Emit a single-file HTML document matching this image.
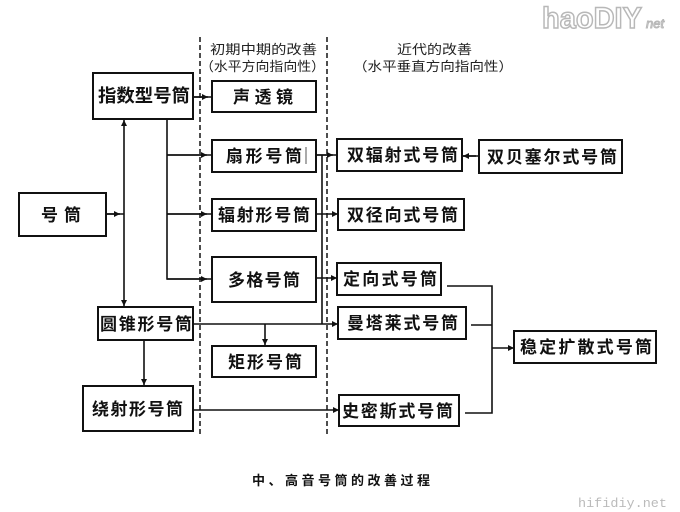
<!DOCTYPE html>
<html><head><meta charset="utf-8">
<style>
html,body{margin:0;padding:0;background:#fff;}
svg{display:block;}
.b{fill:none;stroke:#111;stroke-width:2;}
.l{fill:none;stroke:#111;stroke-width:1.6;}
.d{fill:none;stroke:#222;stroke-width:1.6;stroke-dasharray:5,3;}
.t{font-family:"Liberation Sans","Noto Sans CJK SC",sans-serif;font-size:17px;font-weight:bold;fill:#111;}
.h{font-family:"Liberation Sans","Noto Sans CJK SC",sans-serif;font-size:13px;fill:#222;}
</style></head>
<body>
<svg width="680" height="512" viewBox="0 0 680 512" xmlns="http://www.w3.org/2000/svg">
<defs>
<marker id="a" viewBox="0 0 10 10" refX="10" refY="5" markerWidth="7" markerHeight="6" orient="auto" markerUnits="userSpaceOnUse">
<path d="M0,0 L10,5 L0,10 z" fill="#111"/>
</marker>
</defs>
<rect width="680" height="512" fill="#fff"/>

<!-- dashed separators -->
<line class="d" x1="200" y1="37" x2="200" y2="436"/>
<line class="d" x1="327" y1="37" x2="327" y2="436"/>

<!-- headers -->
<text class="h" x="210" y="54" textLength="107" lengthAdjust="spacingAndGlyphs">初期中期的改善</text>
<text class="h" x="200" y="71" textLength="125" lengthAdjust="spacingAndGlyphs">（水平方向指向性）</text>
<text class="h" x="397" y="54" textLength="75" lengthAdjust="spacingAndGlyphs">近代的改善</text>
<text class="h" x="353" y="71" textLength="160" lengthAdjust="spacingAndGlyphs">（水平垂直方向指向性）</text>

<!-- boxes -->
<rect class="b" x="19" y="193" width="87" height="43"/>
<text class="t" x="41" y="221" textLength="40" lengthAdjust="spacing">号筒</text>

<rect class="b" x="93" y="73" width="100" height="46"/>
<text class="t" x="98" y="102" textLength="92" lengthAdjust="spacingAndGlyphs" style="font-size:18px">指数型号筒</text>

<rect class="b" x="212" y="81" width="104" height="31"/>
<text class="t" x="233" y="103" textLength="60" lengthAdjust="spacing">声透镜</text>

<rect class="b" x="212" y="140" width="104" height="32"/>
<text class="t" x="226" y="162" textLength="76" lengthAdjust="spacing">扇形号筒</text>
<line x1="306" y1="147" x2="306" y2="164" stroke="#555" stroke-width="1"/>

<rect class="b" x="212" y="199" width="104" height="32"/>
<text class="t" x="218" y="221" textLength="92" lengthAdjust="spacing">辐射形号筒</text>

<rect class="b" x="212" y="257" width="104" height="45"/>
<text class="t" x="228" y="286" textLength="72" lengthAdjust="spacing">多格号筒</text>

<rect class="b" x="98" y="307" width="95" height="33"/>
<text class="t" x="100" y="330" textLength="92" lengthAdjust="spacing">圆锥形号筒</text>

<rect class="b" x="212" y="346" width="104" height="31"/>
<text class="t" x="228" y="368" textLength="74" lengthAdjust="spacing">矩形号筒</text>

<rect class="b" x="83" y="386" width="110" height="45"/>
<text class="t" x="92" y="415" textLength="91" lengthAdjust="spacing">绕射形号筒</text>

<rect class="b" x="337" y="139" width="125" height="32"/>
<text class="t" x="347" y="161" textLength="111" lengthAdjust="spacing">双辐射式号筒</text>

<rect class="b" x="479" y="140" width="143" height="33"/>
<text class="t" x="487" y="163" textLength="130" lengthAdjust="spacing">双贝塞尔式号筒</text>

<rect class="b" x="338" y="199" width="126" height="31"/>
<text class="t" x="347" y="221" textLength="111" lengthAdjust="spacing">双径向式号筒</text>

<rect class="b" x="337" y="263" width="104" height="32"/>
<text class="t" x="343" y="285" textLength="94" lengthAdjust="spacing">定向式号筒</text>

<rect class="b" x="338" y="307" width="128" height="32"/>
<text class="t" x="347" y="329" textLength="111" lengthAdjust="spacing">曼塔莱式号筒</text>

<rect class="b" x="514" y="331" width="142" height="32"/>
<text class="t" x="520" y="353" textLength="132" lengthAdjust="spacing">稳定扩散式号筒</text>

<rect class="b" x="339" y="395" width="120" height="31"/>
<text class="t" x="342" y="417" textLength="111" lengthAdjust="spacing">史密斯式号筒</text>

<!-- connectors -->
<!-- 号筒 -> vertical -->
<line class="l" x1="106" y1="214" x2="124" y2="214"/>
<line class="l" x1="106" y1="214" x2="120" y2="214" marker-end="url(#a)"/>
<!-- vertical x=124 -->
<line class="l" x1="124" y1="214" x2="124" y2="120" marker-end="url(#a)"/>
<line class="l" x1="124" y1="214" x2="124" y2="306" marker-end="url(#a)"/>

<!-- 指数型 -> 声透镜 -->
<line class="l" x1="193" y1="97" x2="212" y2="97"/>
<line class="l" x1="193" y1="97" x2="208" y2="97" marker-end="url(#a)"/>

<!-- x=167 trunk -->
<polyline class="l" points="167,119 167,279 212,279"/>
<line class="l" x1="167" y1="279" x2="207" y2="279" marker-end="url(#a)"/>
<line class="l" x1="167" y1="155" x2="212" y2="155"/>
<line class="l" x1="167" y1="155" x2="207" y2="155" marker-end="url(#a)"/>
<line class="l" x1="167" y1="214" x2="212" y2="214"/>
<line class="l" x1="167" y1="214" x2="207" y2="214" marker-end="url(#a)"/>

<!-- middle -> right column -->
<line class="l" x1="322" y1="155" x2="322" y2="324"/>
<line class="l" x1="316" y1="155" x2="337" y2="155"/>
<line class="l" x1="316" y1="155" x2="333" y2="155" marker-end="url(#a)"/>
<line class="l" x1="316" y1="214" x2="338" y2="214" marker-end="url(#a)"/>
<line class="l" x1="316" y1="278" x2="337" y2="278" marker-end="url(#a)"/>

<!-- 圆锥 -> 曼塔莱 -->
<line class="l" x1="193" y1="324" x2="338" y2="324" marker-end="url(#a)"/>
<line class="l" x1="265" y1="324" x2="265" y2="345" marker-end="url(#a)"/>
<!-- 圆锥 -> 绕射 -->
<line class="l" x1="144" y1="340" x2="144" y2="385" marker-end="url(#a)"/>
<!-- 绕射 -> 史密斯 -->
<line class="l" x1="193" y1="410" x2="339" y2="410" marker-end="url(#a)"/>

<!-- 双贝塞尔 -> 双辐射 -->
<line class="l" x1="479" y1="156" x2="462" y2="156"/>
<line class="l" x1="476" y1="156" x2="463" y2="156" marker-end="url(#a)"/>

<!-- collector to 稳定扩散 -->
<polyline class="l" points="447,286 492,286 492,413 465,413"/>
<line class="l" x1="471" y1="325" x2="492" y2="325"/>
<line class="l" x1="492" y1="348" x2="514" y2="348" marker-end="url(#a)"/>

<!-- caption -->
<text x="252" y="485" textLength="178" lengthAdjust="spacing" style="font-family:'Liberation Sans','Noto Sans CJK SC',sans-serif;font-size:13px;font-weight:bold;fill:#111">中、高音号筒的改善过程</text>

<!-- watermarks -->
<text x="542" y="28" textLength="100" lengthAdjust="spacingAndGlyphs" style="font-family:'Liberation Sans',sans-serif;font-size:30px;font-weight:bold;fill:#fff;stroke:#b8b8b8;stroke-width:1.5">haoDIY</text>
<text x="646" y="28" style="font-family:'Liberation Sans',sans-serif;font-size:13px;font-style:italic;fill:#fff;stroke:#b8b8b8;stroke-width:1">net</text>
<text x="578" y="507" textLength="89" lengthAdjust="spacingAndGlyphs" style="font-family:'Liberation Mono',monospace;font-size:13px;fill:#bbb">hifidiy.net</text>
</svg>
</body></html>
